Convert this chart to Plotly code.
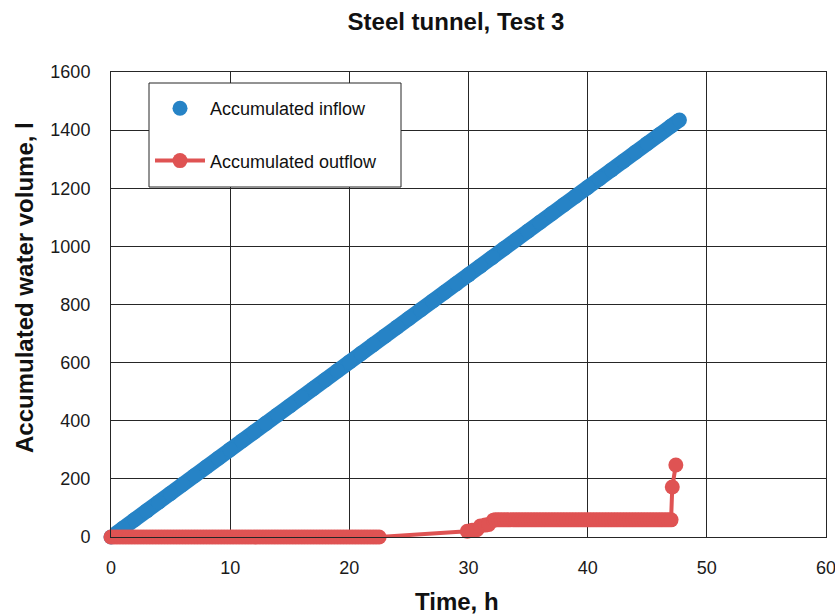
import plotly.graph_objects as go

# Accumulated inflow readings (time h, volume l)
inflow_t = [0, 1, 2, 3, 4, 5, 6, 7, 8, 9, 10, 11, 12, 13, 14, 15, 16, 17, 18, 19,
            20, 21, 22, 23, 24, 25, 26, 27, 28, 29, 30, 31, 32, 33, 34, 35, 36, 37,
            38, 39, 40, 41, 42, 43, 44, 45, 46, 47, 47.7]
inflow_v = [0, 30, 60, 90, 120, 150, 181, 211, 241, 271, 301, 331, 361, 391, 421,
            451, 481, 511, 541, 572, 602, 632, 662, 692, 722, 752, 782, 812, 842,
            872, 902, 932, 962, 993, 1023, 1053, 1083, 1113, 1143, 1173, 1203, 1233,
            1263, 1293, 1324, 1354, 1384, 1414, 1435]

# Accumulated outflow readings (time h, volume l)
outflow_t = [
    0, 0.25, 0.5, 0.75, 1, 1.25, 1.5, 1.75, 2, 2.25, 2.5, 2.75, 3, 3.25, 3.5, 3.75,
    4, 4.25, 4.5, 4.75, 5, 5.25, 5.5, 5.75, 6, 6.25, 6.5, 6.75, 7, 7.25, 7.5, 7.75,
    8, 8.25, 8.5, 8.75, 9, 9.25, 9.5, 9.75, 10, 10.25, 10.5, 10.75, 11, 11.25, 11.5,
    11.75, 12, 12.25, 12.5, 12.75, 13, 13.25, 13.5, 13.75, 14, 14.25, 14.5, 14.75,
    15, 15.25, 15.5, 15.75, 16, 16.25, 16.5, 16.75, 17, 17.25, 17.5, 17.75, 18,
    18.25, 18.5, 18.75, 19, 19.25, 19.5, 19.75, 20, 20.25, 20.5, 20.75, 21, 21.25,
    21.5, 21.75, 22, 22.25, 22.5,
    29.9, 30.3, 30.7, 31.0, 31.4, 31.7, 32.1,
    32.25, 32.5, 32.75, 33, 33.25, 33.5, 33.75, 34, 34.25, 34.5, 34.75, 35, 35.25,
    35.5, 35.75, 36, 36.25, 36.5, 36.75, 37, 37.25, 37.5, 37.75, 38, 38.25, 38.5,
    38.75, 39, 39.25, 39.5, 39.75, 40, 40.25, 40.5, 40.75, 41, 41.25, 41.5, 41.75,
    42, 42.25, 42.5, 42.75, 43, 43.25, 43.5, 43.75, 44, 44.25, 44.5, 44.75, 45,
    45.25, 45.5, 45.75, 46, 46.25, 46.5, 46.75, 47,
    47.1, 47.4]
outflow_v = [
    0, 0, 0, 0, 0, 0, 0, 0, 0, 0, 0, 0, 0, 0, 0, 0, 0, 0, 0, 0, 0, 0, 0, 0, 0, 0,
    0, 0, 0, 0, 0, 0, 0, 0, 0, 0, 0, 0, 0, 0, 0, 0, 0, 0, 0, 0, 0, 0, 0, 0, 0, 0,
    0, 0, 0, 0, 0, 0, 0, 0, 0, 0, 0, 0, 0, 0, 0, 0, 0, 0, 0, 0, 0, 0, 0, 0, 0, 0,
    0, 0, 0, 0, 0, 0, 0, 0, 0, 0, 0, 0, 0,
    20, 23, 25, 38, 41, 43, 58,
    59, 59, 59, 59, 59, 59, 59, 59, 59, 59, 59, 59, 59, 59, 59,
    59, 59, 59, 59, 59, 59, 59, 59, 59, 59, 59, 59, 59, 59, 59,
    59, 59, 59, 59, 59, 59, 59, 59, 59, 59, 59, 59, 59, 59, 59,
    59, 59, 59, 59, 59, 59, 59, 59, 59, 59, 59, 59, 59, 59, 59,
    172, 248]

x_ticks = [0, 10, 20, 30, 40, 50, 60]
y_ticks = [0, 200, 400, 600, 800, 1000, 1200, 1400, 1600]

BLUE = "#2683C6"
RED = "#DF5353"
GRID = "#262626"
FONT = "Liberation Sans, Arial, sans-serif"

fig = go.Figure()

# Dense band of the inflow readings
fig.add_trace(go.Scatter(
    x=inflow_t, y=inflow_v, mode="lines", line=dict(color=BLUE, width=15),
    showlegend=False, hoverinfo="skip", cliponaxis=False))
fig.add_trace(go.Scatter(
    x=inflow_t, y=inflow_v, mode="markers", name="Accumulated inflow",
    marker=dict(color=BLUE, size=15), legendgroup="a", cliponaxis=False))
fig.add_trace(go.Scatter(
    x=outflow_t, y=outflow_v, mode="lines+markers", name="Accumulated outflow",
    line=dict(color=RED, width=4), marker=dict(color=RED, size=15),
    legendgroup="b", cliponaxis=False))

axis_common = dict(
    showgrid=True, gridcolor=GRID, gridwidth=1,
    showline=True, linecolor=GRID, linewidth=1, mirror=True,
    zeroline=False, ticks="", ticklabeloverflow="allow", automargin=False,
    tickfont=dict(family=FONT, size=18, color="#1a1a1a"),
)

title_font = dict(family=FONT, size=24, color="#111", weight="bold")

fig.update_layout(
    width=835, height=615,
    margin=dict(l=111, r=9, t=72, b=78),
    paper_bgcolor="white", plot_bgcolor="white",
    title=dict(text="Steel tunnel, Test 3", xref="container", yref="container",
               x=456 / 835, xanchor="center", y=1 - 22 / 615, yanchor="middle",
               font=title_font),
    xaxis=dict(range=[0, 60], tickvals=x_ticks, ticklabelstandoff=14, **axis_common),
    yaxis=dict(range=[0, 1600], tickvals=y_ticks, ticklabelstandoff=16, **axis_common),
    legend=dict(x=(150 - 111) / 715, xanchor="left", y=(537 - 90) / 465, yanchor="top",
                bgcolor="rgba(0,0,0,0)", borderwidth=0, tracegroupgap=26, itemwidth=50,
                font=dict(family=FONT, size=18, color="#111")),
    shapes=[dict(type="rect", xref="paper", yref="paper",
                 x0=(149 - 111) / 715, x1=(401 - 111) / 715,
                 y0=(537 - 187) / 465, y1=(537 - 83) / 465,
                 fillcolor="white", line=dict(color=GRID, width=1), layer="above")],
    annotations=[
        dict(text="Time, h", xref="paper", yref="paper",
             x=(457 - 111) / 715, y=(537 - 601) / 465, xanchor="center", yanchor="middle",
             showarrow=False, font=title_font),
        dict(text="Accumulated water volume, l", xref="paper", yref="paper",
             x=(24 - 111) / 715, y=(537 - 288) / 465, xanchor="center", yanchor="middle",
             textangle=-90, showarrow=False, font=title_font),
    ],
)

fig.write_html("out.html")
